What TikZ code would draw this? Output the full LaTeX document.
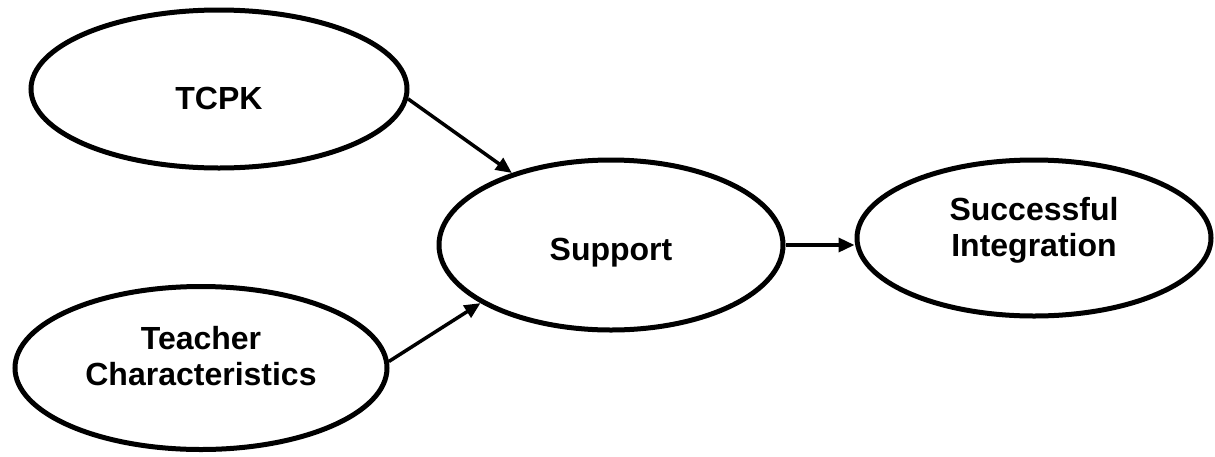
\documentclass[tikz,border=0pt]{standalone}
\usepackage{fontspec}
\setmainfont{Liberation Sans}
\usetikzlibrary{shapes.geometric,arrows.meta}
\newcommand{\shiftedtext}[2]{\raisebox{#1}[\height][\depth]{#2}}
\newcommand{\twolines}[3]{\raisebox{#1}[\height][\depth]{\begin{tabular}{@{}c@{}}#2\\#3\end{tabular}}}
\begin{document}
\begin{tikzpicture}[x=1pt,y=-1pt,
  oval/.style={ellipse,draw,line width=5pt,inner sep=0pt,align=center,
    font=\fontsize{32}{36}\selectfont\bfseries},
  link/.style={line width=3.5pt,-{Triangle[length=16pt,width=14pt]}}]
\useasboundingbox (0,0) rectangle (1215,456);
\node[oval,minimum width=376pt,minimum height=158pt] (tcpk) at (219,89) {\shiftedtext{-9pt}{TCPK}};
\node[oval,minimum width=372pt,minimum height=163pt] (teach) at (201,368) {\twolines{8pt}{Teacher}{Characteristics}};
\node[oval,minimum width=344pt,minimum height=170pt] (supp) at (611,245) {\shiftedtext{-8pt}{Support}};
\node[oval,minimum width=354pt,minimum height=156pt] (succ) at (1034,238) {\twolines{7pt}{Successful}{Integration}};
\draw[link] (tcpk.-3) -- (supp.144);
\draw[link] (teach.2) -- (supp.204);
\draw[link] (supp.east) -- (supp.east -| succ.west);
\end{tikzpicture}
\end{document}
